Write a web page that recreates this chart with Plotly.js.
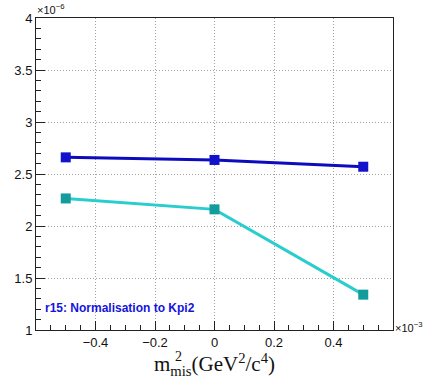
<!DOCTYPE html>
<html><head><meta charset="utf-8">
<script src="https://cdn.plot.ly/plotly-3.0.1.min.js"></script>
<style>body{margin:0;background:#fff}#c{width:432px;height:382px}</style>
</head><body><div id="c"></div>
<script>
// x in units of 1e-3 GeV^2/c^4, y in units of 1e-6
const xVals = [-0.5, 0.0, 0.5];
const seriesBlue = [2.66, 2.635, 2.57];
const seriesCyan = [2.265, 2.16, 1.34];
const xTicks = [-0.4, -0.2, 0, 0.2, 0.4];
const xTickText = ['−0.4', '−0.2', '0', '0.2', '0.4'];
const yTicks = [1, 1.5, 2, 2.5, 3, 3.5, 4];
const yTickText = ['1', '1.5', '2', '2.5', '3', '3.5', '4'];
const labelText = "r15: Normalisation to Kpi2";

const traces = [
  {x: xVals, y: seriesBlue, type: 'scatter', mode: 'lines+markers',
   line: {color: 'rgb(12,12,190)', width: 3},
   marker: {symbol: 'square', size: 10, color: 'rgb(18,18,205)'}, showlegend: false},
  {x: xVals, y: seriesCyan, type: 'scatter', mode: 'lines+markers',
   line: {color: 'rgb(40,205,205)', width: 3},
   marker: {symbol: 'square', size: 10, color: 'rgb(20,155,155)'}, showlegend: false}
];

const axisCommon = {
  showline: true, linecolor: '#222', linewidth: 1, mirror: true,
  showgrid: true, gridcolor: '#a0a0a0', griddash: '1px,2px', gridwidth: 1,
  zeroline: false, ticks: 'inside', ticklen: 9, tickcolor: '#222', tickwidth: 1,
  tickfont: {family: 'Liberation Sans, Arial, sans-serif', size: 13, color: '#111'}
};

const layout = {
  width: 432, height: 382,
  margin: {l: 36, r: 39, t: 18, b: 52},
  paper_bgcolor: '#fff', plot_bgcolor: '#fff',
  xaxis: Object.assign({}, axisCommon, {
    range: [-0.6, 0.6], tickmode: 'array', tickvals: xTicks, ticktext: xTickText,
    minor: {tickmode: 'linear', tick0: 0, dtick: 0.05, ticks: 'inside', ticklen: 5, tickcolor: '#222', showgrid: false},
    title: {text: 'm<sub>mis</sub>(GeV<sup>2</sup>/c<sup>4</sup>)',
            font: {family: 'Liberation Serif, Times New Roman, serif', size: 21, color: '#111'},
            standoff: 6}
  }),
  yaxis: Object.assign({}, axisCommon, {
    range: [1, 4], tickmode: 'array', tickvals: yTicks, ticktext: yTickText,
    minor: {tickmode: 'linear', tick0: 1, dtick: 0.1, ticks: 'inside', ticklen: 5, tickcolor: '#222', showgrid: false}
  }),
  annotations: [
    {xref: 'paper', yref: 'paper', x: 0, y: 1, xanchor: 'left', yanchor: 'bottom',
     text: '×10<sup>−6</sup>', showarrow: false, xshift: -1,
     font: {family: 'Liberation Sans, Arial, sans-serif', size: 11, color: '#111'}},
    {xref: 'paper', yref: 'paper', x: 1, y: 0, xanchor: 'left', yanchor: 'middle',
     text: '×10<sup>−3</sup>', showarrow: false, yshift: 3,
     font: {family: 'Liberation Sans, Arial, sans-serif', size: 11, color: '#111'}},
    {xref: 'paper', yref: 'paper', x: 0.383, y: -0.085, xanchor: 'left', yanchor: 'middle',
     text: '2', showarrow: false,
     font: {family: 'Liberation Serif, Times New Roman, serif', size: 14, color: '#111'}},
    {xref: 'paper', yref: 'paper', x: 0.02, y: 0.07, xanchor: 'left', yanchor: 'middle',
     text: '<b>' + labelText + '</b>', showarrow: false,
     font: {family: 'Liberation Sans, Arial, sans-serif', size: 12, color: 'rgb(20,20,220)'}}
  ]
};

Plotly.newPlot('c', traces, layout, {displayModeBar: false, staticPlot: true});
</script></body></html>
